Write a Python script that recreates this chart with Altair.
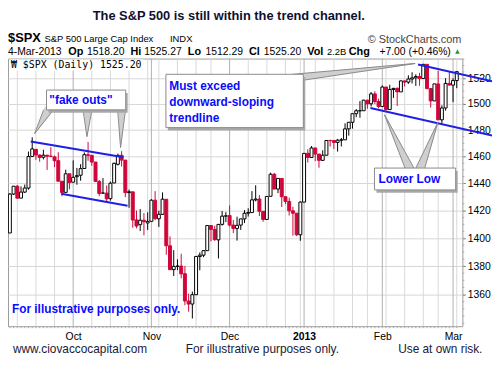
import altair as alt
import pandas as pd
import numpy as np

# ---------------- data ----------------
holidays = ["2012-10-29", "2012-10-30", "2012-11-22", "2012-12-25",
            "2013-01-01", "2013-01-21", "2013-02-18"]
days = [d for d in pd.bdate_range("2012-09-06", "2013-03-04")
        if d.strftime("%Y-%m-%d") not in holidays]

opens = [
    1403.74, 1432.12, 1437.92, 1429.13, 1433.56, 1436.56, 1460.07, 1465.42, 1461.19, 1459.50, 1461.05, 1460.34, 1459.76, 1456.94, 1441.60, 1433.36, 1447.13,
    1440.90, 1444.99, 1446.05, 1451.08, 1461.40, 1460.93, 1455.90, 1441.48, 1432.82, 1432.84, 1428.75, 1440.31, 1454.22, 1460.94, 1457.34, 1433.21, 1433.74, 1413.20, 1409.74, 1412.97, 1410.99,
    1412.20, 1427.59, 1414.02, 1417.26, 1428.27, 1394.53, 1377.55, 1379.86, 1380.03, 1374.64, 1355.41, 1353.36, 1359.88, 1386.82, 1387.79, 1391.03, 1409.15, 1406.29, 1398.77, 1409.96, 1415.95,
    1416.34, 1409.46, 1407.05, 1409.43, 1413.95, 1418.07, 1418.55, 1427.84, 1428.48, 1419.45, 1413.54, 1430.47, 1446.79, 1435.81, 1443.67, 1430.15, 1426.66, 1419.83, 1418.10, 1402.43,
    1426.19, 1462.42, 1459.37, 1466.47, 1461.89, 1457.15, 1461.02, 1472.12, 1472.05, 1470.67, 1472.33, 1472.63, 1480.95, 1485.98, 1492.56, 1494.81, 1494.82, 1502.96, 1500.18, 1507.84, 1501.96,
    1498.11, 1513.17, 1495.71, 1511.29, 1512.12, 1509.39, 1517.93, 1517.01, 1519.43, 1520.33, 1521.38, 1519.79, 1530.94, 1511.95, 1502.42, 1515.60, 1487.85, 1496.94, 1515.99,
    1514.68, 1518.20]
highs = [
    1432.81, 1437.92, 1438.74, 1437.76, 1439.15, 1463.76, 1474.51, 1465.63, 1461.47, 1465.15, 1461.23, 1467.07, 1460.72, 1463.24, 1441.60, 1450.20, 1447.13,
    1457.14, 1451.52, 1454.30, 1463.14, 1470.96, 1460.93, 1455.90, 1442.52, 1443.90, 1438.43, 1441.31, 1455.51, 1462.20, 1464.02, 1457.34, 1435.46, 1433.74, 1420.04, 1421.12, 1418.13, 1418.76,
    1428.35, 1434.27, 1419.90, 1433.38, 1428.27, 1401.23, 1391.39, 1384.87, 1388.81, 1380.13, 1360.62, 1362.03, 1386.89, 1389.77, 1391.25, 1409.16, 1409.15, 1409.01, 1410.31, 1419.70, 1418.86,
    1423.73, 1413.14, 1415.56, 1413.95, 1420.34, 1421.64, 1434.27, 1438.59, 1431.36, 1419.45, 1430.67, 1448.00, 1447.75, 1443.70, 1443.67, 1430.15, 1429.42, 1422.80, 1418.10, 1426.74,
    1462.43, 1465.47, 1467.94, 1466.47, 1461.89, 1464.73, 1472.30, 1472.75, 1472.05, 1473.31, 1473.96, 1485.16, 1485.98, 1492.56, 1496.13, 1502.27, 1503.26, 1503.23, 1509.35, 1509.94, 1504.19,
    1514.41, 1513.17, 1514.96, 1512.53, 1512.90, 1518.31, 1518.31, 1522.29, 1524.69, 1523.14, 1524.24, 1530.94, 1530.94, 1511.95, 1515.64, 1525.84, 1498.99, 1520.08, 1525.34,
    1519.99, 1525.27]
lows = [
    1403.74, 1431.45, 1428.98, 1429.13, 1432.99, 1435.34, 1460.07, 1457.55, 1456.13, 1457.88, 1449.98, 1459.51, 1452.06, 1441.59, 1430.53, 1433.36, 1435.60,
    1440.90, 1439.01, 1441.99, 1451.08, 1456.89, 1453.10, 1441.18, 1430.64, 1432.82, 1425.53, 1427.24, 1440.31, 1453.35, 1452.63, 1429.85, 1422.06, 1407.56, 1407.10, 1405.14, 1402.04, 1405.95,
    1412.20, 1412.91, 1408.13, 1417.26, 1388.14, 1377.51, 1373.03, 1377.19, 1371.39, 1352.50, 1348.05, 1343.35, 1359.88, 1377.04, 1386.39, 1391.03, 1397.68, 1398.03, 1385.43, 1409.04, 1411.63,
    1408.46, 1403.65, 1398.23, 1405.93, 1410.90, 1415.64, 1418.55, 1426.76, 1416.00, 1411.88, 1413.54, 1430.47, 1435.80, 1432.82, 1422.58, 1424.66, 1416.43, 1401.80, 1401.58, 1398.11,
    1426.19, 1455.53, 1458.99, 1456.62, 1451.64, 1457.15, 1461.02, 1467.58, 1465.69, 1463.76, 1467.60, 1472.63, 1475.81, 1481.16, 1489.90, 1489.46, 1494.82, 1496.33, 1498.09, 1500.11, 1496.76,
    1498.11, 1495.02, 1495.71, 1504.71, 1498.49, 1509.39, 1513.61, 1515.61, 1515.93, 1514.02, 1514.14, 1519.79, 1511.41, 1497.29, 1502.42, 1487.85, 1485.01, 1494.88, 1514.46,
    1501.48, 1512.29]
closes = [
    1432.12, 1437.92, 1429.08, 1433.56, 1436.56, 1459.99, 1465.77, 1461.19, 1459.32, 1461.05, 1460.26, 1460.15, 1456.89, 1441.59, 1433.32, 1447.15, 1440.67,
    1444.49, 1445.75, 1450.99, 1461.40, 1460.93, 1455.88, 1441.48, 1432.56, 1432.84, 1428.59, 1440.13, 1454.92, 1460.91, 1457.34, 1433.19, 1433.82, 1413.11, 1408.75, 1412.97, 1411.94, 1412.16,
    1427.59, 1414.20, 1417.26, 1428.39, 1394.53, 1377.51, 1379.85, 1380.03, 1374.53, 1355.49, 1353.33, 1359.88, 1386.89, 1387.81, 1391.03, 1409.15, 1406.29, 1398.94, 1409.93, 1415.95, 1416.18,
    1409.46, 1407.05, 1409.28, 1413.94, 1418.07, 1418.55, 1427.84, 1428.48, 1419.45, 1413.58, 1430.36, 1446.79, 1435.81, 1443.69, 1430.15, 1426.66, 1419.83, 1418.10, 1402.43, 1426.19,
    1462.42, 1459.37, 1466.47, 1461.89, 1457.15, 1461.02, 1472.12, 1472.05, 1470.68, 1472.34, 1472.63, 1480.94, 1485.98, 1492.56, 1494.81, 1494.82, 1502.96, 1500.18, 1507.84, 1501.96, 1498.11,
    1513.17, 1495.71, 1511.29, 1512.12, 1509.39, 1517.93, 1517.01, 1519.43, 1520.33, 1521.38, 1519.79, 1530.94, 1511.95, 1502.42, 1515.60, 1487.85, 1496.94, 1515.99, 1514.68,
    1518.20, 1525.20]
prev_close_start = 1403.44

price_grid = [1360, 1380, 1400, 1420, 1440, 1460, 1480, 1500, 1520]
month_names = ["Oct", "Nov", "Dec", "2013", "Feb", "Mar"]

# trendlines: (trading-day index, price)
trend_id = ["u1", "u1", "l1", "l1", "u2", "u2", "l2", "l2"]
trend_i = [5.6, 30.5, 13.8, 31.6, 109.6, 129.5, 96.8, 129.5]
trend_p = [1471.4, 1459.5, 1432.3, 1423.6, 1530.8, 1517.7, 1497.0, 1475.9]

# callout boxes
box_i0 = [9.84, 41.9, 97.9]
box_i1 = [31.1, 78.8, 119.7]
box_p0 = [1510.8, 1523.1, 1451.4]
box_p1 = [1495.5, 1481.9, 1435.2]

note_text = ['"fake outs"', "Must exceed", "downward-sloping", "trendline",
             "Lower Low", "For illustrative purposes only."]
note_i = [10.6, 42.8, 42.8, 42.8, 98.96, 0.56]
note_p = [1503.1, 1513.8, 1501.6, 1489.4, 1443.3, 1349.7]

# callout pointers
ptr_id = ["f1", "f2", "f3", "me", "ll1", "ll2"]
ptr_base_i = [10.4, 20.85, 30.0, 77.4, 107.3, 110.2]
ptr_base_p = [1495.5, 1495.5, 1495.5, 1520.8, 1451.4, 1451.4]
ptr_tip_i = [6.66, 20.7, 29.73, 108.8, 100.6, 114.9]
ptr_tip_p = [1477.4, 1475.1, 1466.9, 1531.6, 1491.7, 1485.7]
ptr_width = [9, 8, 7, 7, 8, 8]
edge_a_i = [9.05, 19.65, 28.94, 75.9, 106.1, 109.0]
edge_a_p = [1495.5, 1495.5, 1495.5, 1523.1, 1451.4, 1451.4]
edge_b_i = [11.7, 22.04, 31.06, 78.8, 108.5, 111.4]
edge_b_p = [1495.5, 1495.5, 1495.5, 1518.5, 1451.4, 1451.4]

hdr_keys = ["Op", "Hi", "Lo", "Cl", "Vol", "Chg"]
hdr_vals = ["1518.20", "1525.27", "1512.29", "1525.20", "2.2B", "+7.00 (+0.46%)"]

# ---------------- tables ----------------
N = len(days)
df = pd.DataFrame({"i": list(range(N)), "open": opens, "high": highs,
                   "low": lows, "close": closes})
df["prev"] = [prev_close_start] + closes[:-1]
RED, BLK = "#d0053a", "#000000"
df["col"] = np.where(df["close"] < df["prev"], RED, BLK)
df["fillc"] = np.where(df["close"] < df["open"], df["col"], "#ffffff")

month_idx = [i for i in range(1, N) if days[i].month != days[i - 1].month]
week_idx = [i for i in range(1, N)
            if days[i].isocalendar()[1] != days[i - 1].isocalendar()[1]
            and i not in month_idx]

trend_df = pd.DataFrame({"id": trend_id, "i": trend_i, "p": trend_p})
box_df = pd.DataFrame({"i0": box_i0, "i1": box_i1, "p0": box_p0, "p1": box_p1})
note_df = pd.DataFrame({"t": note_text, "i": note_i, "p": note_p})
trail_rows, edge_rows = [], []
for k in range(len(ptr_id)):
    trail_rows += [{"id": ptr_id[k], "o": 0, "i": ptr_base_i[k], "p": ptr_base_p[k], "w": ptr_width[k]},
                   {"id": ptr_id[k], "o": 1, "i": ptr_tip_i[k], "p": ptr_tip_p[k], "w": 0}]
    edge_rows += [{"id": ptr_id[k] + "a", "o": 0, "i": edge_a_i[k], "p": edge_a_p[k]},
                  {"id": ptr_id[k] + "a", "o": 1, "i": ptr_tip_i[k], "p": ptr_tip_p[k]},
                  {"id": ptr_id[k] + "b", "o": 0, "i": edge_b_i[k], "p": edge_b_p[k]},
                  {"id": ptr_id[k] + "b", "o": 1, "i": ptr_tip_i[k], "p": ptr_tip_p[k]}]
trail_df = pd.DataFrame(trail_rows)
edge_df = pd.DataFrame(edge_rows)
minor_df = pd.DataFrame({"p": list(range(1340, 1536, 5))})

# ---------------- chart ----------------
W, H = 460, 271
FONT = "Liberation Sans"
xs = alt.Scale(domain=[-0.5, 121.5], nice=False, zero=False, padding=0)
ys = alt.Scale(type="log", domain=[1338, 1535.5], nice=False, padding=0)

label_expr = "".join(f"datum.value == {i} ? '{n}' : " for i, n in zip(month_idx, month_names)) + "''"
xaxis = alt.Axis(values=month_idx, labelExpr=label_expr, grid=False, ticks=False,
                 domain=False, labelFontSize=10.5, labelPadding=5, labelFont=FONT,
                 labelColor="#000", title=None, labelOverlap=False,
                 labelFontWeight={"condition": {"test": f"datum.value == {month_idx[3]}", "value": "bold"},
                                  "value": "normal"})
yaxis = alt.Axis(orient="right", values=price_grid, grid=True, gridColor="#d6d6d6",
                 tickSize=3, tickColor="#777", domain=False, labelFontSize=10.5,
                 labelPadding=2, title=None, format="d", labelFont=FONT,
                 labelColor="#000", labelOverlap=False)


def X(f):
    return alt.X(f, type="quantitative", scale=xs, axis=xaxis)


def Y(f):
    return alt.Y(f, type="quantitative", scale=ys, axis=yaxis)


one = pd.DataFrame({"k": [0]})


def txt(s, x, y, size=11, weight="normal", color="#000", align="left",
        baseline="alphabetic", font=FONT):
    return alt.Chart(one).mark_text(text=s, align=align, baseline=baseline, fontSize=size,
                                    fontWeight=weight, color=color, font=font).encode(
        x=alt.value(x), y=alt.value(y))


week_lines = alt.Chart(pd.DataFrame({"i": week_idx})).mark_rule(color="#d8d8d8").encode(
    x=X("i"), y=alt.value(0), y2=alt.value(H))
month_lines = alt.Chart(pd.DataFrame({"i": month_idx})).mark_rule(color="#b0b0b0").encode(
    x=X("i"), y=alt.value(0), y2=alt.value(H))
bottom_ticks = alt.Chart(df).mark_rule(color="#aaa").encode(
    x=X("i"), y=alt.value(H), y2=alt.value(H + 2))
right_ticks = alt.Chart(minor_df).mark_rule(color="#aaa").encode(
    x=alt.value(W), x2=alt.value(W + 2), y=Y("p"))

wicks = alt.Chart(df).mark_rule(strokeWidth=1, clip=True).encode(
    x=X("i"), y=Y("low"), y2=alt.Y2("high"),
    color=alt.Color("col:N", scale=None))
bodies = alt.Chart(df).mark_bar(width=3, strokeWidth=1, clip=True).encode(
    x=X("i"), y=Y("open"), y2=alt.Y2("close"),
    fill=alt.Fill("fillc:N", scale=None), stroke=alt.Stroke("col:N", scale=None))

trend = alt.Chart(trend_df).mark_line(color="#1f1fe6", strokeWidth=2, clip=False).encode(
    x=X("i"), y=Y("p"), detail="id:N")

trails = alt.Chart(trail_df).mark_trail(color="#cfcfcf").encode(
    x=X("i"), y=Y("p"), size=alt.Size("w:Q", scale=None), detail="id:N",
    order=alt.Order("o:Q"))
edges = alt.Chart(edge_df).mark_line(color="#8a8a8a", strokeWidth=1).encode(
    x=X("i"), y=Y("p"), detail="id:N", order=alt.Order("o:Q"))

shadows = alt.Chart(box_df).mark_rect(color="#a8a8a8", xOffset=2, x2Offset=2,
                                      yOffset=3, y2Offset=3).encode(
    x=X("i0"), x2=alt.X2("i1"), y=Y("p0"), y2=alt.Y2("p1"))
boxes = alt.Chart(box_df).mark_rect(fill="#ffffff", stroke="#8a8a8a", strokeWidth=1).encode(
    x=X("i0"), x2=alt.X2("i1"), y=Y("p0"), y2=alt.Y2("p1"))
notes = alt.Chart(note_df).mark_text(align="left", baseline="middle", fontSize=12,
                                     fontWeight="bold", color="#0a0aff", font=FONT).encode(
    x=X("i"), y=Y("p"), text="t:N")

legend_bg = alt.Chart(one).mark_rect(fill="#ffffff").encode(
    x=alt.value(1), x2=alt.value(138), y=alt.value(1), y2=alt.value(12))

layers = [week_lines, month_lines, bottom_ticks, right_ticks, wicks, bodies, trend,
          trails, edges, shadows, boxes, notes, legend_bg,
          txt("\u20a9 $SPX (Daily) 1525.20", 3, 7, size=10, baseline="middle", font="DejaVu Sans Mono"),
          txt("The S&P 500 is still within the trend channel.", 223.5, -43, size=13,
              weight="bold", color="#101030", align="center", baseline="middle"),
          txt("$SPX", 0, -17, size=13, weight="bold"),
          txt("S&P 500 Large Cap Index", 37, -17, size=9.5),
          txt("INDX", 164, -17, size=9.5),
          txt("\u00a9 StockCharts.com", 459, -16, size=11, color="#444", align="right"),
          txt("4-Mar-2013", 0, -4, size=10.5)]
key_x = [61, 124, 182, 244, 303, 345]
val_x = [80, 138, 200, 259, 323, 376]
val_size = [10.5, 10.5, 10.5, 10.5, 9.5, 10.5]
for k in range(len(hdr_keys)):
    layers.append(txt(hdr_keys[k], key_x[k], -4, size=11, weight="bold"))
    layers.append(txt(hdr_vals[k], val_x[k], -4, size=val_size[k]))
layers.append(alt.Chart(one).mark_point(shape="triangle-up", filled=True, color="#2e8b2e",
                                        size=22, opacity=1).encode(x=alt.value(455), y=alt.value(-7)))
layers += [txt("www.ciovaccocapital.com", 5, 298, size=12, color="#1a1a3a"),
           txt("For illustrative purposes only.", 180, 298, size=12, color="#1a1a3a"),
           txt("Use at own risk.", 395, 298, size=12, color="#1a1a3a")]

chart = alt.layer(*layers).properties(
    width=W, height=H,
    padding={"left": 0, "top": 49, "right": 30, "bottom": 30},
    autosize=alt.AutoSizeParams(type="none"),
    background="#ffffff",
).configure_view(stroke="#9a9a9a", strokeWidth=1)

chart.save("out.html", embed_options={"renderer": "svg", "actions": False})
